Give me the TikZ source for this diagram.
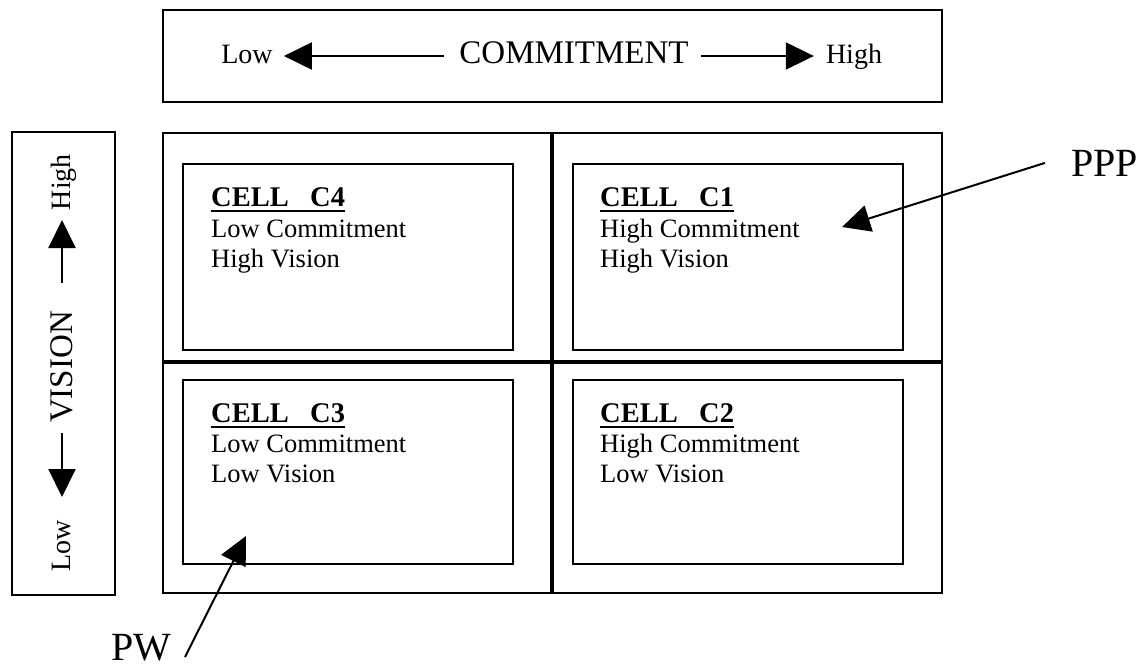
\documentclass[tikz,border=0pt]{standalone}
\usepackage{fontspec}
\setmainfont{Liberation Serif}
\usetikzlibrary{arrows.meta}
\begin{document}
\begin{tikzpicture}[x=1pt,y=-1pt,
  frame/.style={draw, line width=2pt},
  divider/.style={line width=4pt},
  arr/.style={line width=2pt, -{Triangle[length=28pt,width=27pt]}},
  label/.style={inner sep=0pt, font=\fontsize{28}{30}\selectfont},
  axis/.style={inner sep=0pt, font=\fontsize{33}{36}\selectfont},
  head/.style={inner sep=0pt, anchor=base west, font=\fontsize{28.5}{30}\selectfont\bfseries},
  celltext/.style={inner sep=0pt, anchor=base west, font=\fontsize{26.5}{30}\selectfont},
  tag/.style={inner sep=0pt, font=\fontsize{40}{44}\selectfont},
  uline/.style={line width=2.4pt}]
\useasboundingbox (0,0) rectangle (1143,667);

% commitment scale
\draw[frame] (163,10) rectangle (942,102);
\node[label, anchor=base] (clow) at (247,63) {Low};
\node[axis, anchor=base] (commit) at (574,63) {COMMITMENT};
\node[label, anchor=base] (chigh) at (854,63) {High};
\draw[arr, shorten <=15pt, shorten >=11pt] (commit.west |- 0,56) -- (clow.east |- 0,56);
\draw[arr, shorten <=12pt, shorten >=12pt] (commit.east |- 0,56) -- (chigh.west |- 0,56);

% vision scale
\draw[frame] (12,132) rectangle (115,595);
\node[label, anchor=base, rotate=90] (vhigh) at (70,182) {High};
\node[axis, anchor=base, rotate=90] (vision) at (72,367) {VISION};
\node[label, anchor=base, rotate=90] (vlow) at (70,546) {Low};
\coordinate (vup0) at (62,283);
\coordinate (vup1) at (62,220);
\coordinate (vdn0) at (62,433);
\coordinate (vdn1) at (62,497);
\draw[arr] (vup0) -- (vup1);
\draw[arr] (vdn0) -- (vdn1);

% quadrant grid
\draw[frame] (163,133) rectangle (942,593);
\draw[divider] (552,133) -- (552,593);
\draw[divider] (163,362) -- (942,362);

% cell boxes
\draw[frame] (183,164) rectangle (513,350);
\draw[frame] (573,164) rectangle (903,350);
\draw[frame] (183,380) rectangle (513,564);
\draw[frame] (573,380) rectangle (903,564);

% cell C4
\node[head] (h4) at (211,206) {CELL\ \ \ C4};
\draw[uline] ([yshift=-5pt]h4.base west) -- ([yshift=-5pt]h4.base east);
\node[celltext] (c4a) at (211,237) {Low Commitment};
\node[celltext] (c4b) at (211,267) {High Vision};

% cell C1
\node[head] (h1) at (600,206) {CELL\ \ \ C1};
\draw[uline] ([yshift=-5pt]h1.base west) -- ([yshift=-5pt]h1.base east);
\node[celltext] (c1a) at (600,237) {High Commitment};
\node[celltext] (c1b) at (600,267) {High Vision};

% cell C3
\node[head] (h3) at (211,422) {CELL\ \ \ C3};
\draw[uline] ([yshift=-5pt]h3.base west) -- ([yshift=-5pt]h3.base east);
\node[celltext] (c3a) at (211,452) {Low Commitment};
\node[celltext] (c3b) at (211,482) {Low Vision};

% cell C2
\node[head] (h2) at (600,422) {CELL\ \ \ C2};
\draw[uline] ([yshift=-5pt]h2.base west) -- ([yshift=-5pt]h2.base east);
\node[celltext] (c2a) at (600,452) {High Commitment};
\node[celltext] (c2b) at (600,482) {Low Vision};

% pointers
\node[tag, anchor=base west] (ppp) at (1071,176) {PPP};
\coordinate (ppptip) at (842,227);
\draw[arr] ([xshift=-26pt]ppp.west) -- (ppptip);
\node[tag, anchor=base west] (pw) at (111,660) {PW};
\coordinate (pwtail) at (185,657);
\coordinate (pwtip) at (246,536);
\draw[arr] (pwtail) -- (pwtip);
\end{tikzpicture}
\end{document}
